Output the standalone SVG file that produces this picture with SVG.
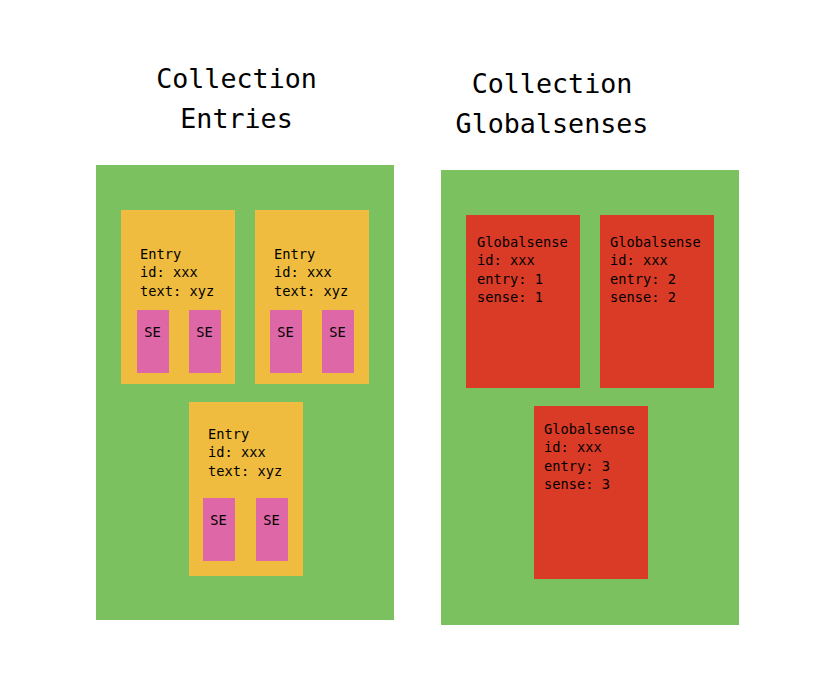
<svg xmlns="http://www.w3.org/2000/svg" width="822" height="690" viewBox="0 0 822 690">
<style>
text{font-family:"DejaVu Sans Mono","Liberation Mono",monospace;fill:#000}
.title{font-size:26.7px;text-anchor:middle}
.body{font-size:13.7px}
.se{font-size:13.7px;text-anchor:middle}
.coll{fill:#7CC160}
.entry{fill:#EFBC3F}
.sep{fill:#DE67A7}
.gs{fill:#DA3B26}
</style>
<rect width="822" height="690" fill="#fff"/>
<g id="title-entries">
<text class="title" x="236.5" y="88">Collection</text>
<text class="title" x="236.5" y="128">Entries</text>
</g>
<g id="title-globalsenses">
<text class="title" x="552" y="93">Collection</text>
<text class="title" x="552" y="133">Globalsenses</text>
</g>
<g id="collection-entries">
<rect class="coll" x="96" y="165" width="298" height="455"/>
</g>
<g id="collection-globalsenses">
<rect class="coll" x="441" y="170" width="298" height="455"/>
</g>
<g id="entry-1">
<rect class="entry" x="121" y="210" width="114" height="174"/>
<text class="body" x="140" y="258.5">Entry</text>
<text class="body" x="140" y="277">id: xxx</text>
<text class="body" x="140" y="295.5">text: xyz</text>
<g id="entry-1-se-1"><rect class="sep" x="137" y="310" width="32" height="63"/><text class="se" x="152.5" y="336.5">SE</text></g>
<g id="entry-1-se-2"><rect class="sep" x="189" y="310" width="32" height="63"/><text class="se" x="204.5" y="336.5">SE</text></g>
</g>
<g id="entry-2">
<rect class="entry" x="255" y="210" width="114" height="174"/>
<text class="body" x="274" y="258.5">Entry</text>
<text class="body" x="274" y="277">id: xxx</text>
<text class="body" x="274" y="295.5">text: xyz</text>
<g id="entry-2-se-1"><rect class="sep" x="270" y="310" width="32" height="63"/><text class="se" x="285.5" y="336.5">SE</text></g>
<g id="entry-2-se-2"><rect class="sep" x="322" y="310" width="32" height="63"/><text class="se" x="337.5" y="336.5">SE</text></g>
</g>
<g id="entry-3">
<rect class="entry" x="189" y="402" width="114" height="174"/>
<text class="body" x="208" y="438.5">Entry</text>
<text class="body" x="208" y="457">id: xxx</text>
<text class="body" x="208" y="475.5">text: xyz</text>
<g id="entry-3-se-1"><rect class="sep" x="203" y="498" width="32" height="63"/><text class="se" x="218.5" y="525">SE</text></g>
<g id="entry-3-se-2"><rect class="sep" x="256" y="498" width="32" height="63"/><text class="se" x="271.5" y="525">SE</text></g>
</g>
<g id="globalsense-1">
<rect class="gs" x="466" y="215" width="114" height="173"/>
<text class="body" x="477" y="246.5">Globalsense</text>
<text class="body" x="477" y="265">id: xxx</text>
<text class="body" x="477" y="283.5">entry: 1</text>
<text class="body" x="477" y="302">sense: 1</text>
</g>
<g id="globalsense-2">
<rect class="gs" x="600" y="215" width="114" height="173"/>
<text class="body" x="610" y="246.5">Globalsense</text>
<text class="body" x="610" y="265">id: xxx</text>
<text class="body" x="610" y="283.5">entry: 2</text>
<text class="body" x="610" y="302">sense: 2</text>
</g>
<g id="globalsense-3">
<rect class="gs" x="534" y="406" width="114" height="173"/>
<text class="body" x="544" y="433.5">Globalsense</text>
<text class="body" x="544" y="452">id: xxx</text>
<text class="body" x="544" y="470.5">entry: 3</text>
<text class="body" x="544" y="489">sense: 3</text>
</g>
<g id="connectors"></g>
</svg>
